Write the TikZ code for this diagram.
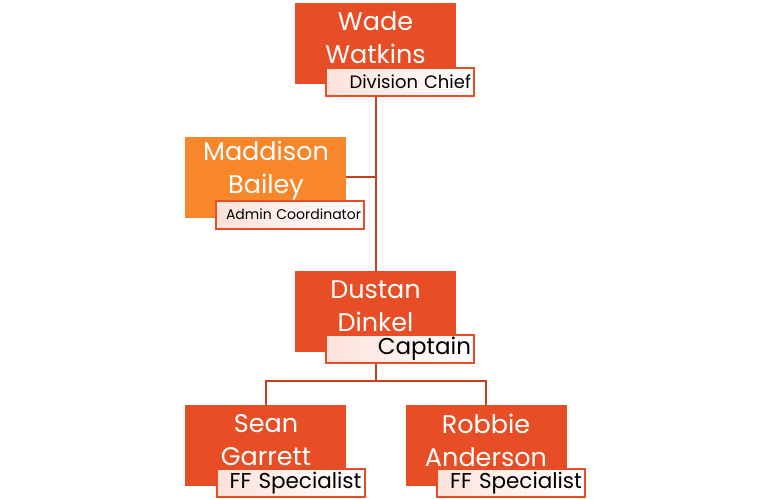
\documentclass[tikz,border=0pt]{standalone}
\usepackage{fontspec}
\setmainfont{Poppins}
\usetikzlibrary{backgrounds}
\definecolor{boxred}{HTML}{E84E25}
\definecolor{boxorange}{HTML}{F7872A}
\definecolor{linered}{HTML}{C8411D}
\definecolor{tint}{HTML}{FCE2D9}
\tikzset{
  namebox/.style={rectangle, fill=boxred, draw=none, minimum width=161pt, minimum height=81pt, inner sep=0pt},
  nametext/.style={text=white, align=center, font=\fontsize{25.5}{33}\selectfont, inner sep=0pt},
  rolebox/.style={rectangle, draw=boxred, line width=2pt, left color=tint, right color=white, minimum height=28pt, text width=142pt, inner xsep=3pt, inner ysep=0pt, align=right, text=black},
  conn/.style={draw=linered, line width=2pt}
}
\begin{document}
\begin{tikzpicture}[x=1pt,y=-1pt]
\useasboundingbox (0,0) rectangle (768,498);
% boxes
\node[namebox] (wade) at (375.5,43.5) {};
\node[namebox, fill=boxorange] (madd) at (265.5,177) {};
\node[namebox] (dust) at (375.5,311.5) {};
\node[namebox] (sean) at (265.5,445.5) {};
\node[namebox] (robb) at (486,445.5) {};
% names
\node[nametext] (wadet) at (375.5,38) {Wade\\Watkins};
\node[nametext] (maddt) at (266,171) {Maddison\\Bailey};
\node[nametext] (dustt) at (375.5,306) {Dustan\\Dinkel};
\node[nametext] (seant) at (266,440) {Sean\\Garrett};
\node[nametext] (robbt) at (486,440) {Robbie\\Anderson};
% roles
\node[rolebox, font=\fontsize{18}{18}\selectfont] (wader) at (400,82) {Division Chief};
\node[rolebox, font=\fontsize{14}{14}\selectfont] (maddr) at (290,214.5) {Admin Coordinator};
\node[rolebox, font=\fontsize{23}{23}\selectfont] (dustr) at (400,348.5) {Captain};
\node[rolebox, font=\fontsize{21.5}{21.5}\selectfont] (seanr) at (290.5,483) {FF Specialist};
\node[rolebox, font=\fontsize{21.5}{21.5}\selectfont] (robbr) at (511,483) {FF Specialist};
\coordinate (j) at (375.5,381);
\begin{scope}[on background layer]
\draw[conn] (wade.center) -- (dust.center);
\draw[conn] (madd.east) -- (madd.east -| wade.center);
\draw[conn] (dust.center) -- (j);
\draw[conn] (sean.center) |- (j) -| (robb.center);
\end{scope}
\end{tikzpicture}
\end{document}
